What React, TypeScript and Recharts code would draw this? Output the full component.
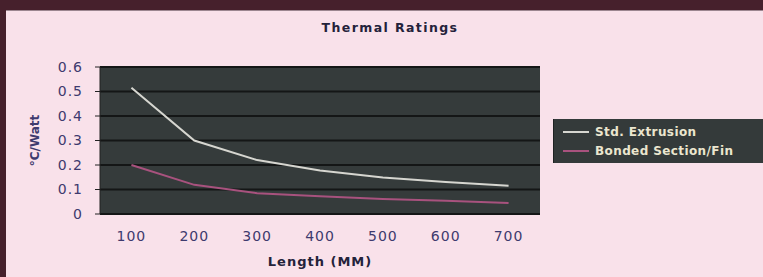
import { LineChart, Line, XAxis, YAxis, CartesianGrid, Label } from 'recharts'

const lengths = [100, 200, 300, 400, 500, 600, 700]
const stdExtrusion = [0.515, 0.3, 0.22, 0.178, 0.149, 0.131, 0.115]
const bondedFin = [0.2, 0.119, 0.085, 0.072, 0.061, 0.054, 0.045]
const yTicks = [0, 0.1, 0.2, 0.3, 0.4, 0.5, 0.6]
const boundaryTicks = [50, 150, 250, 350, 450, 550, 650, 750]

const series = [
  { key: 'std', name: 'Std. Extrusion', color: '#d6d6d0', values: stdExtrusion },
  { key: 'bonded', name: 'Bonded Section/Fin', color: '#a8527e', values: bondedFin },
]

const rows = lengths.map((length, i) => ({ length, std: stdExtrusion[i], bonded: bondedFin[i] }))

const labelColor = '#3e3a6e'
const font = '"DejaVu Sans", sans-serif'

// eslint-disable-next-line @typescript-eslint/no-explicit-any
const YTitle = (props: any) => {
  const vb = props.viewBox || {}
  const cx = vb.x + 15
  const cy = vb.y + vb.height / 2
  return (
    <text x={cx} y={cy} transform={`rotate(-90 ${cx} ${cy})`} textAnchor="middle" dominantBaseline="central"
      fontFamily={font} fontSize={12} fontWeight="bold" fill={labelColor}>
      °C/Watt
    </text>
  )
}

export default function App() {
  return (
    <div style={{ position: 'fixed', left: 0, top: 0, width: 763, height: 277, overflow: 'hidden', background: '#46202c' }}>
      <div style={{ position: 'absolute', left: 6, top: 10, right: 0, bottom: 0, background: '#f9e1ea', borderTop: '1px solid #9c8690' }} />
      <div style={{ position: 'absolute', left: 290, top: 20, width: 200, lineHeight: '16px', textAlign: 'center', fontFamily: font, fontSize: 12.5, fontWeight: 'bold', letterSpacing: 1.4, color: '#24223a' }}>
        Thermal Ratings
      </div>
      <div style={{ position: 'absolute', left: 0, top: 0 }}>
        <LineChart width={763} height={277} data={rows} margin={{ top: 67, right: 223, bottom: 8, left: 20 }}>
          <CartesianGrid vertical={false} fill="#353b3b" stroke="#141616" strokeWidth={2} strokeOpacity={1} />
          <XAxis xAxisId={0} type="number" dataKey="length" domain={[50, 750]} ticks={boundaryTicks} interval={0}
            tickFormatter={() => ''} height={0} tickSize={5} stroke="#222" />
          <XAxis xAxisId="lab" type="number" dataKey="length" domain={[50, 750]} ticks={lengths} interval={0} allowDataOverflow
            tickLine={false} axisLine={false} tickSize={0} tickMargin={17} height={55}
            tick={{ fill: labelColor, fontSize: 14, fontFamily: font, letterSpacing: 1 }}>
            <Label value="Length (MM)" position="insideBottom" offset={3}
              style={{ fontFamily: font, fontSize: 13, fontWeight: 'bold', letterSpacing: 1, fill: '#24223a' }} />
          </XAxis>
          <YAxis domain={[0, 0.6]} ticks={yTicks} interval={0} width={80} tickSize={5} tickMargin={12} stroke="#222"
            tickFormatter={(v: number) => (v === 0 ? '0' : v.toFixed(1))}
            tick={{ fill: labelColor, fontSize: 14, fontFamily: font, letterSpacing: 1 }}
            label={{ content: YTitle }} />
          {series.map((s) => (
            <Line key={s.key} type="linear" dataKey={s.key} name={s.name} stroke={s.color} strokeWidth={2} dot={false} isAnimationActive={false} />
          ))}
        </LineChart>
      </div>
      <div style={{ position: 'absolute', left: 553, top: 119, width: 230, background: '#343a3a', borderLeft: '1px solid #1e2222', padding: '3px 0 3px 9px' }}>
        {series.map((s) => (
          <div key={s.key} style={{ display: 'flex', alignItems: 'center', height: 19 }}>
            <span style={{ display: 'inline-block', width: 26, height: 2, background: s.color, marginRight: 6 }} />
            <span style={{ fontFamily: font, fontSize: 12, fontWeight: 'bold', letterSpacing: 0.4, color: '#ebe6cf', whiteSpace: 'nowrap' }}>
              {s.name}
            </span>
          </div>
        ))}
      </div>
    </div>
  )
}
